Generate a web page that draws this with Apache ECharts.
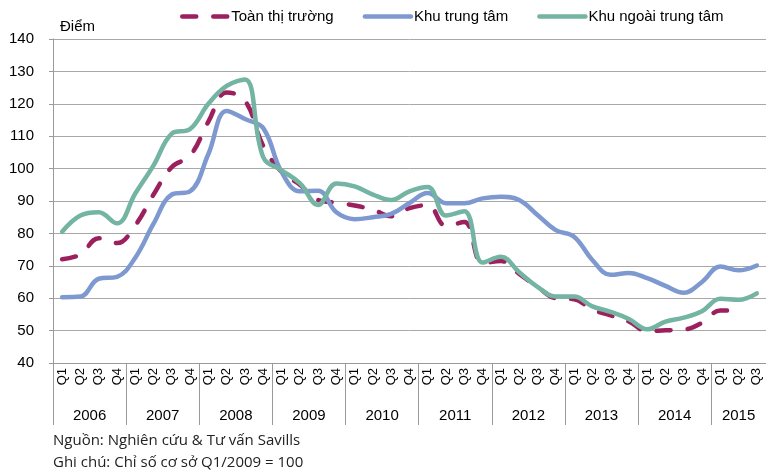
<!DOCTYPE html>
<html>
<head>
<meta charset="utf-8">
<script src="https://cdn.jsdelivr.net/npm/echarts@6/dist/echarts.min.js"></script>
<style>
  html, body { margin: 0; padding: 0; background: #fff; }
  #main { width: 766px; height: 475px; }
</style>
</head>
<body>
<div id="main"></div>
<script>
// du lieu doc tu hinh (Q1/2006 - Q3/2015)
var years = ['2006', '2007', '2008', '2009', '2010', '2011', '2012', '2013', '2014', '2015'];
var quarterNames = ['Q1', 'Q2', 'Q3', 'Q4'];
var quarterCount = 39;

var toanThiTruong = [72, 73.5, 78.5, 77, 82.5, 92, 100.5, 104, 114.5, 123.5, 121, 107,
  99, 95, 90.3, 89.5, 88.6, 87.3, 85.3, 87.8, 88.7, 82.3, 83.5, 70.8,
  71.5, 67.5, 63.5, 60, 59.7, 56.5, 54.7, 52.8, 49.8, 50.1, 50.3, 52.4,
  56.2, 56.2, null];
var khuTrungTam = [60.3, 60.5, 66, 66.6, 72.5, 83, 92, 93, 104.5, 117.8, 115.3, 112.5,
  99, 93, 93.2, 86.5, 84.4, 85, 86, 89.4, 92.5, 89.3, 89.3, 90.8,
  91.3, 90.3, 85.7, 81, 79, 71.8, 67.2, 67.8, 66.2, 63.8, 61.7, 65,
  69.8, 68.6, 70.1];
var khuNgoaiTrungTam = [80.5, 85.5, 86.5, 83.1, 92.3, 101, 110.8, 112.2, 120, 125.5, 127.5, 103.5,
  99.5, 95.5, 88.8, 95.4, 94.5, 92, 90.3, 93, 94.3, 85.5, 86.8, 71,
  72.8, 68, 63.5, 60.5, 60.5, 57.5, 55.8, 53.6, 50.4, 52.8, 54, 56,
  59.8, 59.5, 61.5];

var categories = [];
for (var i = 0; i < quarterCount; i++) {
  categories.push(quarterNames[i % 4]);
}
// vach chia nam va vi tri nhan nam
var yearTicks = [];
var yearLabelPos = [];
for (var y = 0; y < years.length; y++) {
  var start = y * 4;
  var end = Math.min(start + 4, quarterCount);
  yearTicks.push(start);
  yearLabelPos.push((start + end) / 2);
}

var axisGrey = '#9a9a9a';
var chartDom = document.getElementById('main');
var myChart = echarts.init(chartDom);
var option = {
  animation: false,
  textStyle: { fontFamily: 'Liberation Sans, Arial, sans-serif' },
  legend: {
    left: 180,
    top: 9,
    padding: 0,
    itemWidth: 46,
    itemHeight: 14,
    itemGap: 29,
    itemStyle: { opacity: 0, borderWidth: 0 },
    lineStyle: { width: 4.5, cap: 'round' },
    textStyle: { fontSize: 15, color: '#000', padding: [0, 0, 0, -2] },
    data: ['Toàn thị trường', 'Khu trung tâm', 'Khu ngoài trung tâm']
  },
  grid: {
    left: 53,
    top: 39,
    width: 721.5,
    height: 324
  },
  xAxis: [
    {
      type: 'category',
      data: categories,
      boundaryGap: true,
      axisLine: { lineStyle: { color: axisGrey, width: 1 } },
      axisTick: { interval: 0, length: 27, lineStyle: { color: axisGrey } },
      axisLabel: { interval: 0, rotate: 90, fontSize: 13, color: '#000', margin: 5 },
      splitLine: { show: false }
    },
    {
      type: 'value',
      min: 0,
      max: quarterCount,
      position: 'bottom',
      axisLine: { show: false },
      axisTick: { show: true, customValues: yearTicks, length: 62, lineStyle: { color: axisGrey } },
      axisLabel: {
        customValues: yearLabelPos,
        margin: 45,
        fontSize: 15,
        color: '#000',
        formatter: function (v) {
          return years[yearLabelPos.indexOf(v)];
        }
      },
      splitLine: { show: false }
    }
  ],
  yAxis: {
    type: 'value',
    min: 40,
    max: 140,
    interval: 10,
    axisLine: { show: true, lineStyle: { color: axisGrey } },
    axisTick: { show: true, length: 4, lineStyle: { color: axisGrey } },
    axisLabel: { fontSize: 15, color: '#000', margin: 19 },
    splitLine: { lineStyle: { color: '#a8a8a8', width: 1 } }
  },
  graphic: [
    { type: 'text', left: 60, top: 19, style: { text: 'Điểm', font: '15px "Liberation Sans", Arial', fill: '#000' } },
    { type: 'text', left: 53, top: 433, style: { text: 'Nguồn: Nghiên cứu & Tư vấn Savills', font: '15px "Open Sans"', fill: '#222' } },
    { type: 'text', left: 53, top: 455, style: { text: 'Ghi chú: Chỉ số cơ sở Q1/2009 = 100', font: '15px "Open Sans"', fill: '#222' } }
  ],
  series: [
    {
      name: 'Toàn thị trường',
      type: 'line',
      data: toanThiTruong,
      smooth: 0.4,
      symbol: 'none',
      color: '#9c1f5e',
      lineStyle: { width: 4.5, type: [14, 17], cap: 'round' }
    },
    {
      name: 'Khu trung tâm',
      type: 'line',
      data: khuTrungTam,
      smooth: 0.4,
      symbol: 'none',
      color: '#7e98d0',
      lineStyle: { width: 4.5, cap: 'round' }
    },
    {
      name: 'Khu ngoài trung tâm',
      type: 'line',
      data: khuNgoaiTrungTam,
      smooth: 0.4,
      symbol: 'none',
      color: '#73b4a3',
      lineStyle: { width: 4.5, cap: 'round' }
    }
  ]
};
option && myChart.setOption(option);
</script>
</body>
</html>
